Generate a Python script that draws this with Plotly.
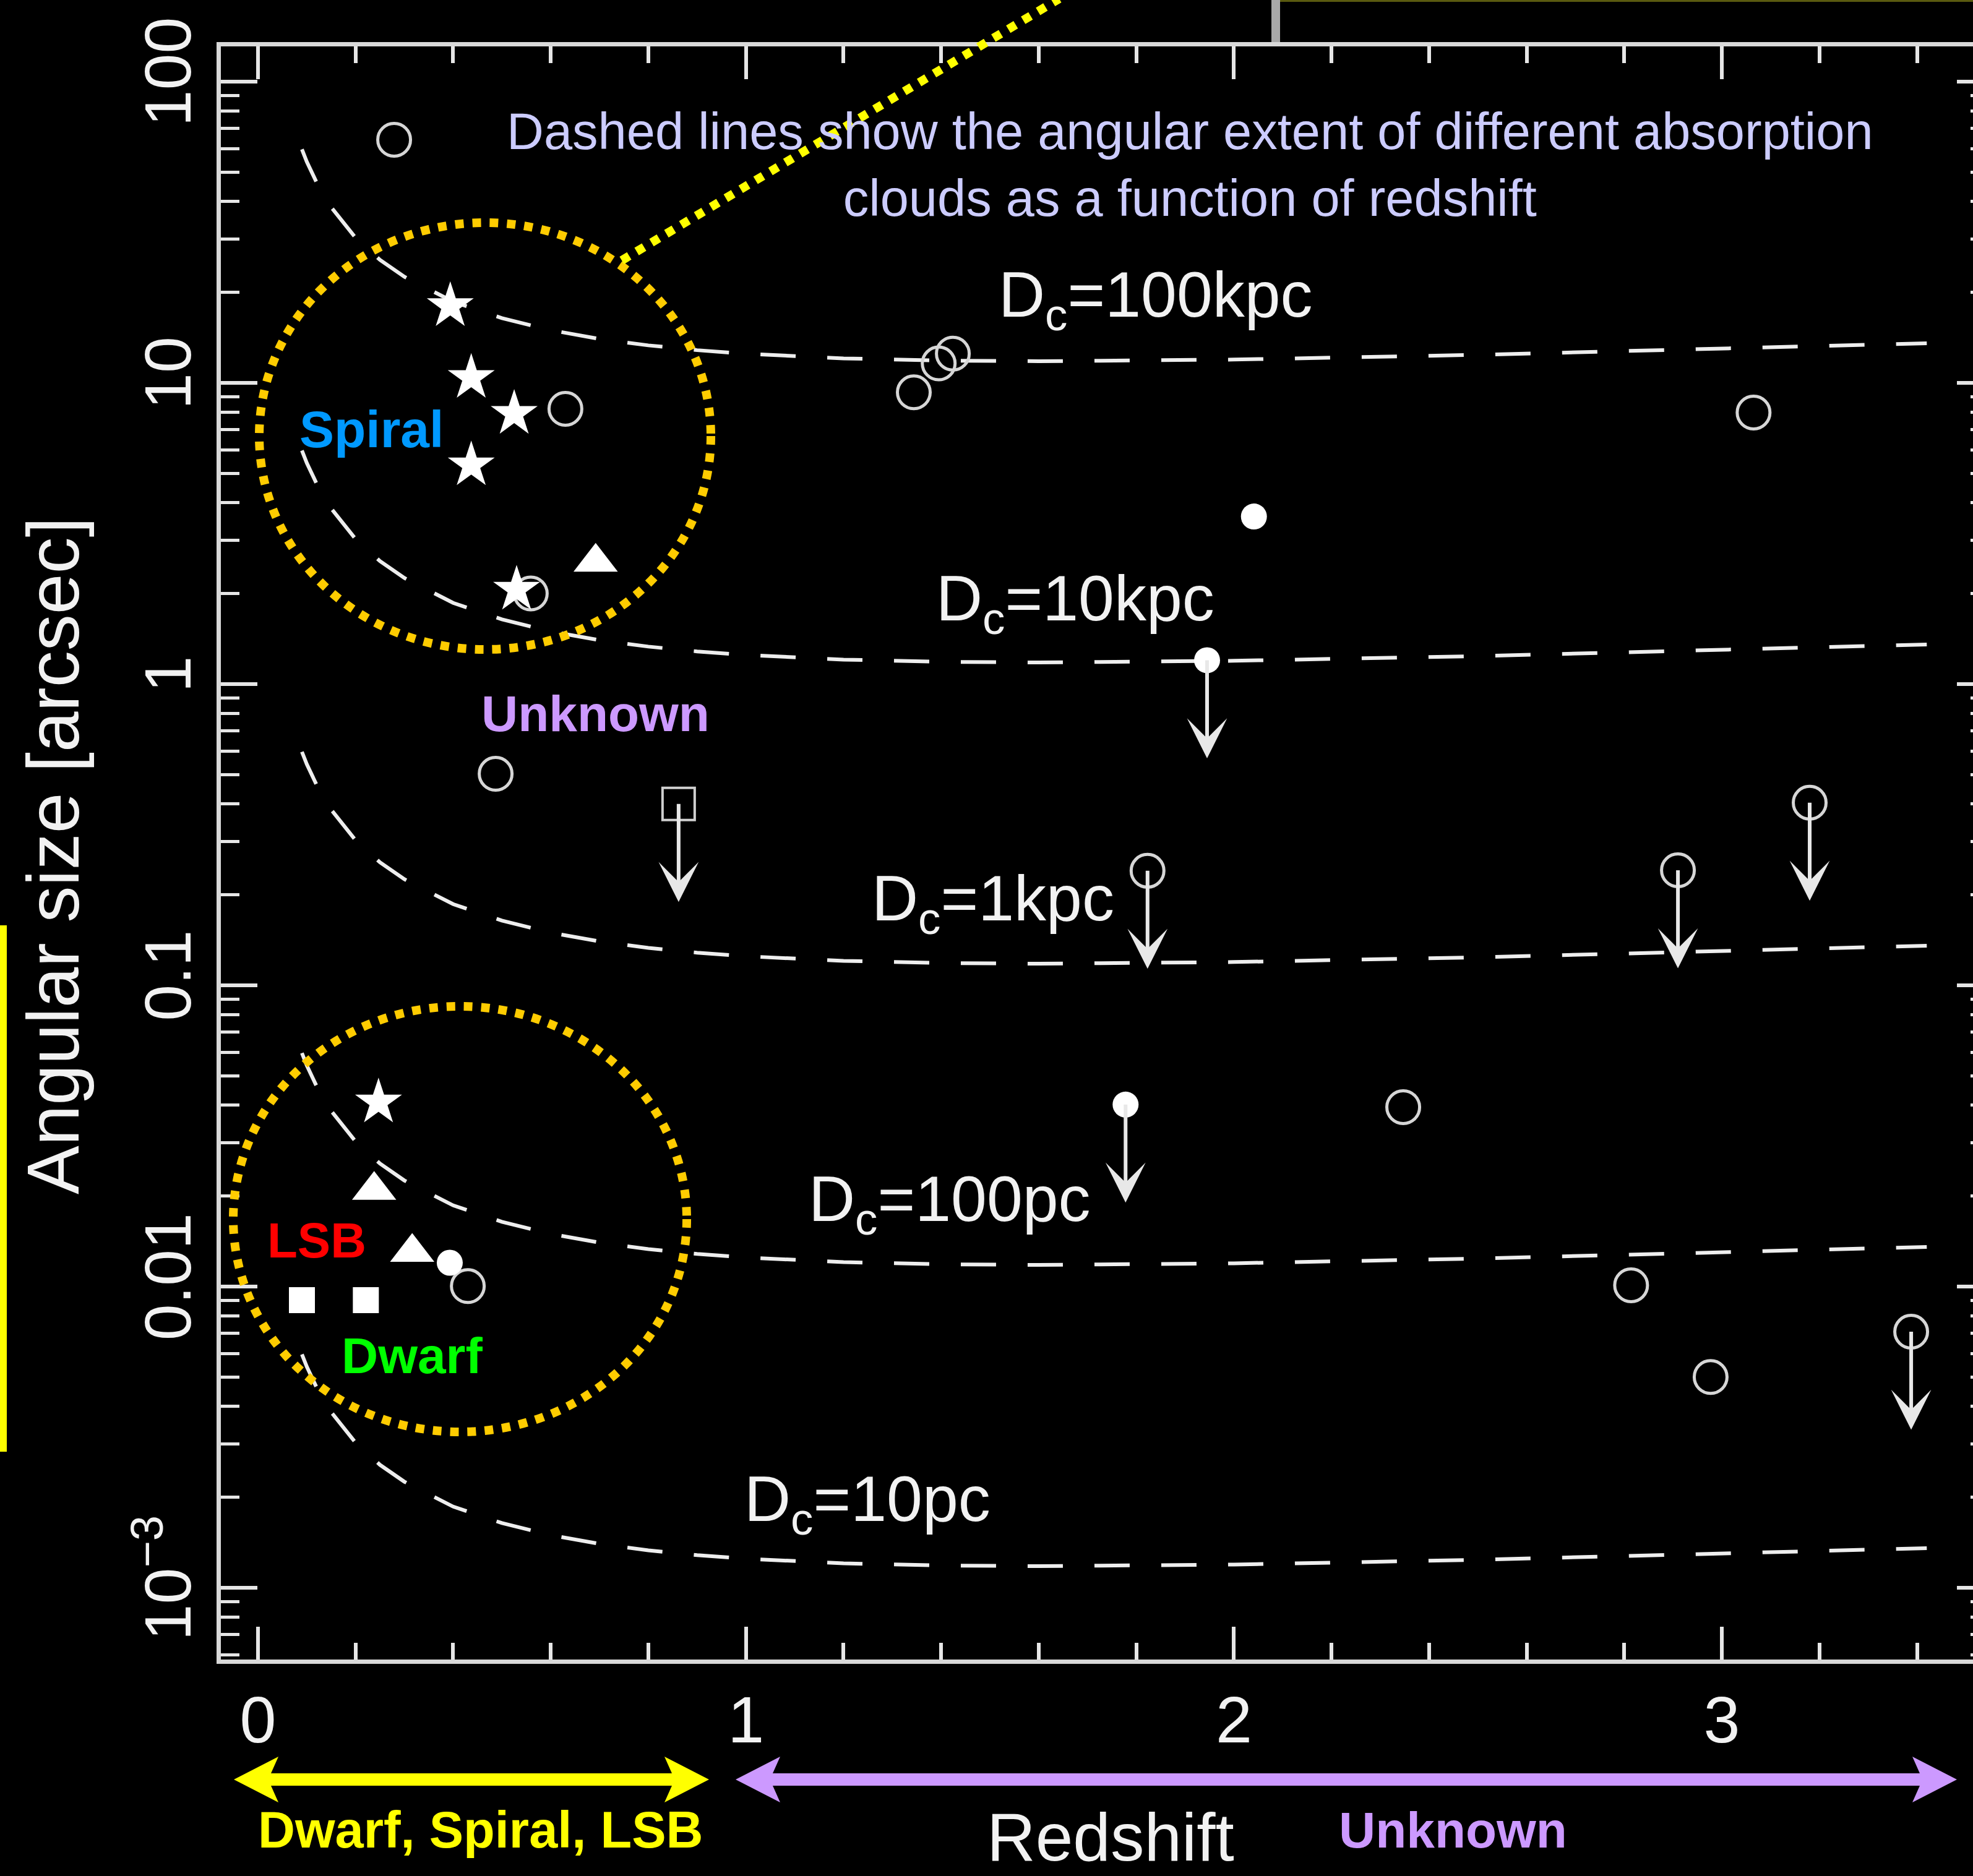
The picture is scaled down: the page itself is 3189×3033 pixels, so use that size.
import math
import plotly.graph_objects as go

# ---------------- data ----------------
# dashed curves: angular size (arcsec) of a cloud of fixed size vs redshift
curve_z = [0.09, 0.10, 0.12, 0.15, 0.20, 0.25, 0.30, 0.40, 0.50, 0.60, 0.70,
           0.80, 0.90, 1.00, 1.20, 1.40, 1.60, 1.80, 2.00, 2.50, 3.00, 3.42]
theta_100kpc = [59.6, 54.2, 46.3, 38.3, 30.3, 25.6, 22.5, 18.6, 16.4, 14.96, 13.99,
                13.32, 12.84, 12.49, 12.06, 11.86, 11.80, 11.84, 11.95, 12.39, 12.98, 13.54]
theta_10kpc = [5.96, 5.42, 4.63, 3.83, 3.03, 2.56, 2.25, 1.86, 1.64, 1.496, 1.399,
               1.332, 1.284, 1.249, 1.206, 1.186, 1.180, 1.184, 1.195, 1.239, 1.298, 1.354]
theta_1kpc = [0.596, 0.542, 0.463, 0.383, 0.303, 0.256, 0.225, 0.186, 0.164, 0.1496, 0.1399,
              0.1332, 0.1284, 0.1249, 0.1206, 0.1186, 0.1180, 0.1184, 0.1195, 0.1239, 0.1298, 0.1354]
theta_100pc = [0.0596, 0.0542, 0.0463, 0.0383, 0.0303, 0.0256, 0.0225, 0.0186, 0.0164, 0.01496, 0.01399,
               0.01332, 0.01284, 0.01249, 0.01206, 0.01186, 0.01180, 0.01184, 0.01195, 0.01239, 0.01298, 0.01354]
theta_10pc = [0.00596, 0.00542, 0.00463, 0.00383, 0.00303, 0.00256, 0.00225, 0.00186, 0.00164, 0.001496, 0.001399,
              0.001332, 0.001284, 0.001249, 0.001206, 0.001186, 0.001180, 0.001184, 0.001195, 0.001239, 0.001298, 0.001354]
curve_labels = ["D<sub>c</sub>=100kpc", "D<sub>c</sub>=10kpc", "D<sub>c</sub>=1kpc",
                "D<sub>c</sub>=100pc", "D<sub>c</sub>=10pc"]

# open circles (measurements)
oc_z = [0.279, 0.630, 1.344, 1.395, 1.424, 3.065, 0.559, 0.487, 2.347, 0.430, 2.814, 2.977]
oc_theta = [64.1, 8.2, 9.3, 11.6, 12.5, 7.97, 2.0, 0.504, 0.0394, 0.01004, 0.0101, 0.00501]
# open circles (upper limits)
ocl_z = [1.823, 2.910, 3.180, 3.388]
ocl_theta = [0.240, 0.241, 0.404, 0.00708]
# open square (upper limit)
osl_z = [0.862]
osl_theta = [0.400]
# filled circles
fc_z = [2.041, 0.393]
fc_theta = [3.60, 0.0120]
# filled circles (upper limits)
fcl_z = [1.945, 1.778]
fcl_theta = [1.20, 0.0402]
# stars (spirals)
st_z = [0.394, 0.437, 0.525, 0.437, 0.530, 0.247]
st_theta = [18.0, 10.4, 7.9, 5.33, 2.06, 0.0409]
# triangles (LSB)
tr_z = [0.692, 0.238, 0.316]
tr_theta = [2.54, 0.0209, 0.0130]
# squares (dwarfs)
sq_z = [0.090, 0.221]
sq_theta = [0.00901, 0.00901]

x_tick_vals = [0, 1, 2, 3]
x_tick_text = ["0", "1", "2", "3"]
y_tick_vals = [0.001, 0.01, 0.1, 1, 10, 100]
y_tick_text = ["10<sup>\u22123</sup>", "0.01", "0.1", "1", "10", "100"]

# ---------------- layout helpers (pixel -> paper) ----------------
FIG_W, FIG_H = 3189, 3033
L, R, T, B = 357.0, 3189.0, 75.0, 2683.0


def px(X):
    return (X - L) / (R - L)


def py(Y):
    return (B - Y) / (B - T)


def path(points):
    return "M " + " L ".join(f"{px(x):.5f},{py(y):.5f}" for x, y in points) + " Z"


FONT = "Liberation Sans, Arial, Helvetica, sans-serif"
WHITE = "#f2f2f2"
LAV = "#CC99FF"

fig = go.Figure()

for th in [theta_100kpc, theta_10kpc, theta_1kpc, theta_100pc, theta_10pc]:
    fig.add_trace(go.Scatter(x=curve_z, y=th, mode="lines",
                             line=dict(color="#eeeeee", width=6, dash="57px,51px"),
                             hoverinfo="skip", showlegend=False))


def add_markers(xs, ys, symbol, size, color, lw=0):
    fig.add_trace(go.Scatter(x=xs, y=ys, mode="markers", showlegend=False, hoverinfo="skip",
                             marker=dict(symbol=symbol, size=size, color=color,
                                         line=dict(width=lw, color=color))))


add_markers(oc_z, oc_theta, "circle-open", 53, "#d6d6d6", 5)
add_markers(ocl_z, ocl_theta, "circle-open", 53, "#d6d6d6", 5)
add_markers(osl_z, osl_theta, "square-open", 52, "#cfcfcf", 4)
add_markers(fc_z, fc_theta, "circle", 42, "#ffffff")
add_markers(fcl_z, fcl_theta, "circle", 42, "#ffffff")
add_markers(st_z, st_theta, "star", 57, "#ffffff")
add_markers(tr_z, tr_theta, "triangle-up", 62, "#ffffff")
add_markers(sq_z, sq_theta, "square", 42, "#ffffff")

# invisible trace to activate the right-hand tick axis
fig.add_trace(go.Scatter(x=[None], y=[None], yaxis="y2", showlegend=False, hoverinfo="skip"))

annotations = []
# upper-limit arrows
for xs, ys in [(ocl_z, ocl_theta), (osl_z, osl_theta), (fcl_z, fcl_theta)]:
    for x, y in zip(xs, ys):
        annotations.append(dict(x=x, y=math.log10(y), xref="x", yref="y", text="",
                                showarrow=True, ax=0, ay=160, arrowside="start",
                                startarrowhead=3, startarrowsize=1.8, arrowwidth=6,
                                arrowcolor="#e8e8e8"))

# curve labels (left ink edge, cap centre in pixels)
label_pos = [(1613, 484), (1512, 974), (1408, 1459), (1306, 1945), (1202, 2430)]
for txt, (lx, ly) in zip(curve_labels, label_pos):
    annotations.append(dict(x=px(lx), y=py(ly), xref="paper", yref="paper", text=txt,
                            showarrow=False, xanchor="left", yanchor="middle", borderpad=0,
                            font=dict(family=FONT, size=104, color=WHITE)))


def label(text, X, Y, size, color, bold=False, angle=0):
    t = f"<b>{text}</b>" if bold else text
    annotations.append(dict(x=px(X), y=py(Y), xref="paper", yref="paper", text=t,
                            showarrow=False, xanchor="center", yanchor="middle",
                            borderpad=0, textangle=angle,
                            font=dict(family=FONT, size=size, color=color)))


label("Dashed lines show the angular extent of different absorption<br>clouds as a function of redshift",
      1923, 266, 83, "#CCCCFF")
label("Spiral", 600, 694, 84, "#0099FF", bold=True)
label("Unknown", 962, 1153, 82, LAV, bold=True)
label("LSB", 512, 2005, 80, "#FF0000", bold=True)
label("Dwarf", 666, 2191, 82, "#00FF00", bold=True)
label("Dwarf, Spiral, LSB", 776, 2958, 83, "#FFFF00", bold=True)
label("Unknown", 2348, 2958, 82, LAV, bold=True)
label("Redshift", 1795, 2970, 109, WHITE)
label("Angular size [arcsec]", 86, 1384, 118, WHITE, angle=-90)

shapes = []
# dotted selection ellipses
shapes.append(dict(type="circle", xref="paper", yref="paper", x0=px(419), x1=px(1149),
                   y0=py(1050), y1=py(360), line=dict(color="#FFCC00", width=14, dash="dot")))
shapes.append(dict(type="circle", xref="paper", yref="paper", x0=px(377), x1=px(1110),
                   y0=py(2315), y1=py(1627), line=dict(color="#FFCC00", width=14, dash="dot")))
# dotted pointer to the top
shapes.append(dict(type="line", xref="paper", yref="paper", x0=px(1005), y0=py(421),
                   x1=px(1712), y1=py(-2), line=dict(color="#FFFF00", width=14, dash="dot")))


def double_arrow(x_left, x_right, yc, color):
    hl, notch, hh, sh = 72, 12, 37, 10
    pts = [(x_left, yc), (x_left + hl, yc - hh), (x_left + hl - notch, yc - sh),
           (x_right - hl + notch, yc - sh), (x_right - hl, yc - hh), (x_right, yc),
           (x_right - hl, yc + hh), (x_right - hl + notch, yc + sh),
           (x_left + hl - notch, yc + sh), (x_left + hl, yc + hh)]
    shapes.append(dict(type="path", xref="paper", yref="paper", path=path(pts),
                       fillcolor=color, line=dict(width=0)))


double_arrow(378, 1146, 2877, "#FFFF00")
double_arrow(1189, 3163, 2877, LAV)

# slide decorations
shapes.append(dict(type="rect", xref="paper", yref="paper", x0=px(0), x1=px(11),
                   y0=py(2347), y1=py(1496), fillcolor="#FFFF00", line=dict(width=0)))
shapes.append(dict(type="rect", xref="paper", yref="paper", x0=px(2055), x1=px(2069),
                   y0=py(68), y1=py(0), fillcolor="#a8a8a8", line=dict(width=0)))
shapes.append(dict(type="rect", xref="paper", yref="paper", x0=px(2069), x1=px(3189),
                   y0=py(3), y1=py(0), fillcolor="#5a5a10", line=dict(width=0)))

minor_y = [m * 10.0 ** k for k in range(-4, 3) for m in range(2, 10)]

fig.update_layout(
    width=FIG_W, height=FIG_H,
    margin=dict(l=int(L), r=0, t=int(T), b=int(FIG_H - B), pad=0, autoexpand=False),
    paper_bgcolor="#000000", plot_bgcolor="#000000",
    showlegend=False,
    annotations=annotations, shapes=shapes,
    xaxis=dict(range=[-0.0761, 3.5147], showgrid=False, zeroline=False,
               showline=True, linecolor="#d9d9d9", linewidth=7, mirror="ticks",
               ticks="inside", ticklen=53, tickwidth=6, tickcolor="#e6e6e6",
               tickmode="array", tickvals=x_tick_vals, ticktext=x_tick_text,
               minor=dict(ticks="inside", ticklen=27, tickwidth=6, tickcolor="#e6e6e6",
                          tick0=0, dtick=0.2, showgrid=False),
               tickfont=dict(family=FONT, size=106, color=WHITE)),
    yaxis=dict(type="log", range=[-3.238, 2.117], showgrid=False, zeroline=False,
               showline=True, linecolor="#d9d9d9", linewidth=7, mirror=False,
               ticks="inside", ticklen=59, tickwidth=6, tickcolor="#e6e6e6",
               tickmode="array", tickvals=y_tick_vals, ticktext=y_tick_text, tickangle=-90,
               minor=dict(ticks="inside", ticklen=30, tickwidth=5, tickcolor="#e6e6e6",
                          tickvals=minor_y, showgrid=False),
               tickfont=dict(family=FONT, size=106, color=WHITE)),
    yaxis2=dict(type="log", range=[-3.238, 2.117], overlaying="y", side="right",
                showgrid=False, zeroline=False, showline=False, showticklabels=False,
                ticks="inside", ticklen=26, tickwidth=6, tickcolor="#e6e6e6",
                tickmode="array", tickvals=y_tick_vals,
                minor=dict(ticks="inside", ticklen=4, tickwidth=5, tickcolor="#e6e6e6",
                           tickvals=minor_y, showgrid=False)),
)

fig.write_html("out.html",
               config={"displayModeBar": False},
               post_script="document.body.style.margin='0px';"
                           "document.body.style.background='#000000';")
